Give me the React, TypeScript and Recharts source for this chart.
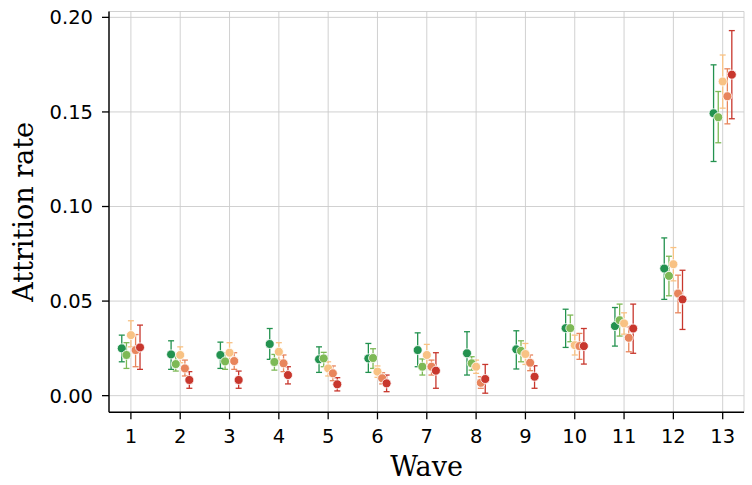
import React from "react";
import {
  ScatterChart,
  Scatter,
  XAxis,
  YAxis,
  CartesianGrid,
  ErrorBar,
  Label,
} from "recharts";

const waves = [1, 2, 3, 4, 5, 6, 7, 8, 9, 10, 11, 12, 13];
const xTicks = [1, 2, 3, 4, 5, 6, 7, 8, 9, 10, 11, 12, 13];
const yTicks = [0, 0.05, 0.1, 0.15, 0.2];

const groupNames = ["g1", "g2", "g3", "g4", "g5"];
const groupColors = ["#23924f", "#7db956", "#f8c284", "#e8855c", "#c8372d"];
const groupOffsets = [-0.185, -0.09, 0, 0.095, 0.185];

const meanA = [0.025, 0.0218, 0.0215, 0.0273, 0.0192, 0.0197, 0.0241, 0.0224, 0.0245, 0.0357, 0.0368, 0.0672, 0.1493];
const lowA = [0.0179, 0.0139, 0.0144, 0.0192, 0.0123, 0.0123, 0.0153, 0.0109, 0.0141, 0.0255, 0.0262, 0.0509, 0.1238];
const highA = [0.032, 0.029, 0.0283, 0.0355, 0.0258, 0.0276, 0.0332, 0.0338, 0.0343, 0.0457, 0.0466, 0.0834, 0.1749];

const meanB = [0.0215, 0.0167, 0.0181, 0.0178, 0.0197, 0.0199, 0.0153, 0.0171, 0.0237, 0.0357, 0.0399, 0.0633, 0.1472];
const lowB = [0.0144, 0.013, 0.0139, 0.0135, 0.0153, 0.0144, 0.0109, 0.0135, 0.0179, 0.0285, 0.0315, 0.0528, 0.1337];
const highB = [0.028, 0.0209, 0.0227, 0.0218, 0.0229, 0.0248, 0.0194, 0.0206, 0.029, 0.0426, 0.0484, 0.0737, 0.1608];

const meanC = [0.032, 0.0215, 0.0227, 0.0232, 0.0144, 0.0127, 0.0215, 0.0153, 0.022, 0.0267, 0.0382, 0.0695, 0.1661];
const lowC = [0.0258, 0.0174, 0.0179, 0.0188, 0.0104, 0.0097, 0.0158, 0.0118, 0.0165, 0.0215, 0.0325, 0.0607, 0.152];
const highC = [0.0396, 0.0258, 0.028, 0.028, 0.0179, 0.0157, 0.0271, 0.0188, 0.0276, 0.032, 0.0438, 0.0783, 0.1801];

const meanD = [0.0241, 0.0144, 0.0183, 0.0171, 0.0118, 0.0092, 0.0153, 0.0068, 0.0174, 0.0262, 0.0306, 0.054, 0.1583];
const lowD = [0.0153, 0.0104, 0.0139, 0.0127, 0.0079, 0.0062, 0.0109, 0.0039, 0.0132, 0.0192, 0.0232, 0.0438, 0.1437];
const highD = [0.0323, 0.0188, 0.0227, 0.0215, 0.0157, 0.0121, 0.0188, 0.01, 0.0215, 0.0329, 0.0364, 0.0637, 0.1728];

const meanE = [0.0255, 0.0083, 0.0083, 0.0109, 0.006, 0.0065, 0.0132, 0.0088, 0.01, 0.0262, 0.0355, 0.0509, 0.1697];
const lowE = [0.0139, 0.0039, 0.0039, 0.0062, 0.0025, 0.0021, 0.0039, 0.0013, 0.0039, 0.0167, 0.0224, 0.035, 0.1464];
const highE = [0.0373, 0.0127, 0.013, 0.0153, 0.0095, 0.0109, 0.0227, 0.0165, 0.0158, 0.0355, 0.0484, 0.0663, 0.193];

const means = [meanA, meanB, meanC, meanD, meanE];
const lows = [lowA, lowB, lowC, lowD, lowE];
const highs = [highA, highB, highC, highD, highE];

const seriesData = groupNames.map((_, g) =>
  waves.map((w, i) => ({
    x: w + groupOffsets[g],
    y: means[g][i],
    err: [means[g][i] - lows[g][i], highs[g][i] - means[g][i]],
  }))
);

const tickStyle = { fontFamily: "DejaVu Sans", fontSize: 19.5, fill: "#000" };
const labelStyle = { fontFamily: "DejaVu Serif", fontSize: 27, fill: "#000" };

export default function App() {
  return (
    <div style={{ position: "absolute", left: 0, top: 0, width: 752, height: 485, background: "#fff" }}>
      <ScatterChart
        width={752}
        height={485}
        margin={{ top: 11.5, right: 8, bottom: 42.7, left: 49 }}
      >
        <CartesianGrid stroke="#cccccc" strokeWidth={0.9} />
        <XAxis
          type="number"
          dataKey="x"
          domain={[0.556, 13.432]}
          ticks={xTicks}
          allowDataOverflow
          height={30}
          tick={tickStyle}
          tickSize={7}
          tickMargin={9.5}
          axisLine={{ stroke: "#000", strokeWidth: 1.4 }}
          tickLine={{ stroke: "#000", strokeWidth: 1.3 }}
        >
          <Label value="Wave" position="insideBottom" offset={-34} style={labelStyle} />
        </XAxis>
        <XAxis
          xAxisId="top"
          orientation="top"
          type="number"
          domain={[0.556, 13.432]}
          allowDataOverflow
          height={0}
          tick={false}
          tickLine={false}
          axisLine={{ stroke: "#000", strokeWidth: 1.4 }}
        />
        <YAxis
          type="number"
          dataKey="y"
          domain={[-0.0088, 0.2031]}
          ticks={yTicks}
          allowDataOverflow
          width={60}
          tick={tickStyle}
          tickSize={7}
          tickMargin={9}
          tickFormatter={(v: number) => v.toFixed(2)}
          axisLine={{ stroke: "#000", strokeWidth: 1.4 }}
          tickLine={{ stroke: "#000", strokeWidth: 1.3 }}
        >
          <Label
            value="Attrition rate"
            angle={-90}
            position="insideLeft"
            offset={-26}
            style={{ ...labelStyle, textAnchor: "middle" }}
          />
        </YAxis>
        <YAxis
          yAxisId="right"
          orientation="right"
          type="number"
          domain={[-0.0088, 0.2031]}
          allowDataOverflow
          width={0}
          tick={false}
          tickLine={false}
          axisLine={{ stroke: "#000", strokeWidth: 1.4 }}
        />
        {seriesData.map((data, g) => (
          <Scatter
            key={groupNames[g]}
            name={groupNames[g]}
            data={data}
            fill={groupColors[g]}
            isAnimationActive={false}
            shape={(p: any) => (
              <circle cx={p.cx} cy={p.cy} r={4.5} fill={groupColors[g]} stroke="#ffffff" strokeWidth={0.8} />
            )}
          >
            <ErrorBar
              dataKey="err"
              direction="y"
              width={3}
              stroke={groupColors[g]}
              strokeWidth={1.3}
              isAnimationActive={false}
            />
          </Scatter>
        ))}
      </ScatterChart>
    </div>
  );
}
